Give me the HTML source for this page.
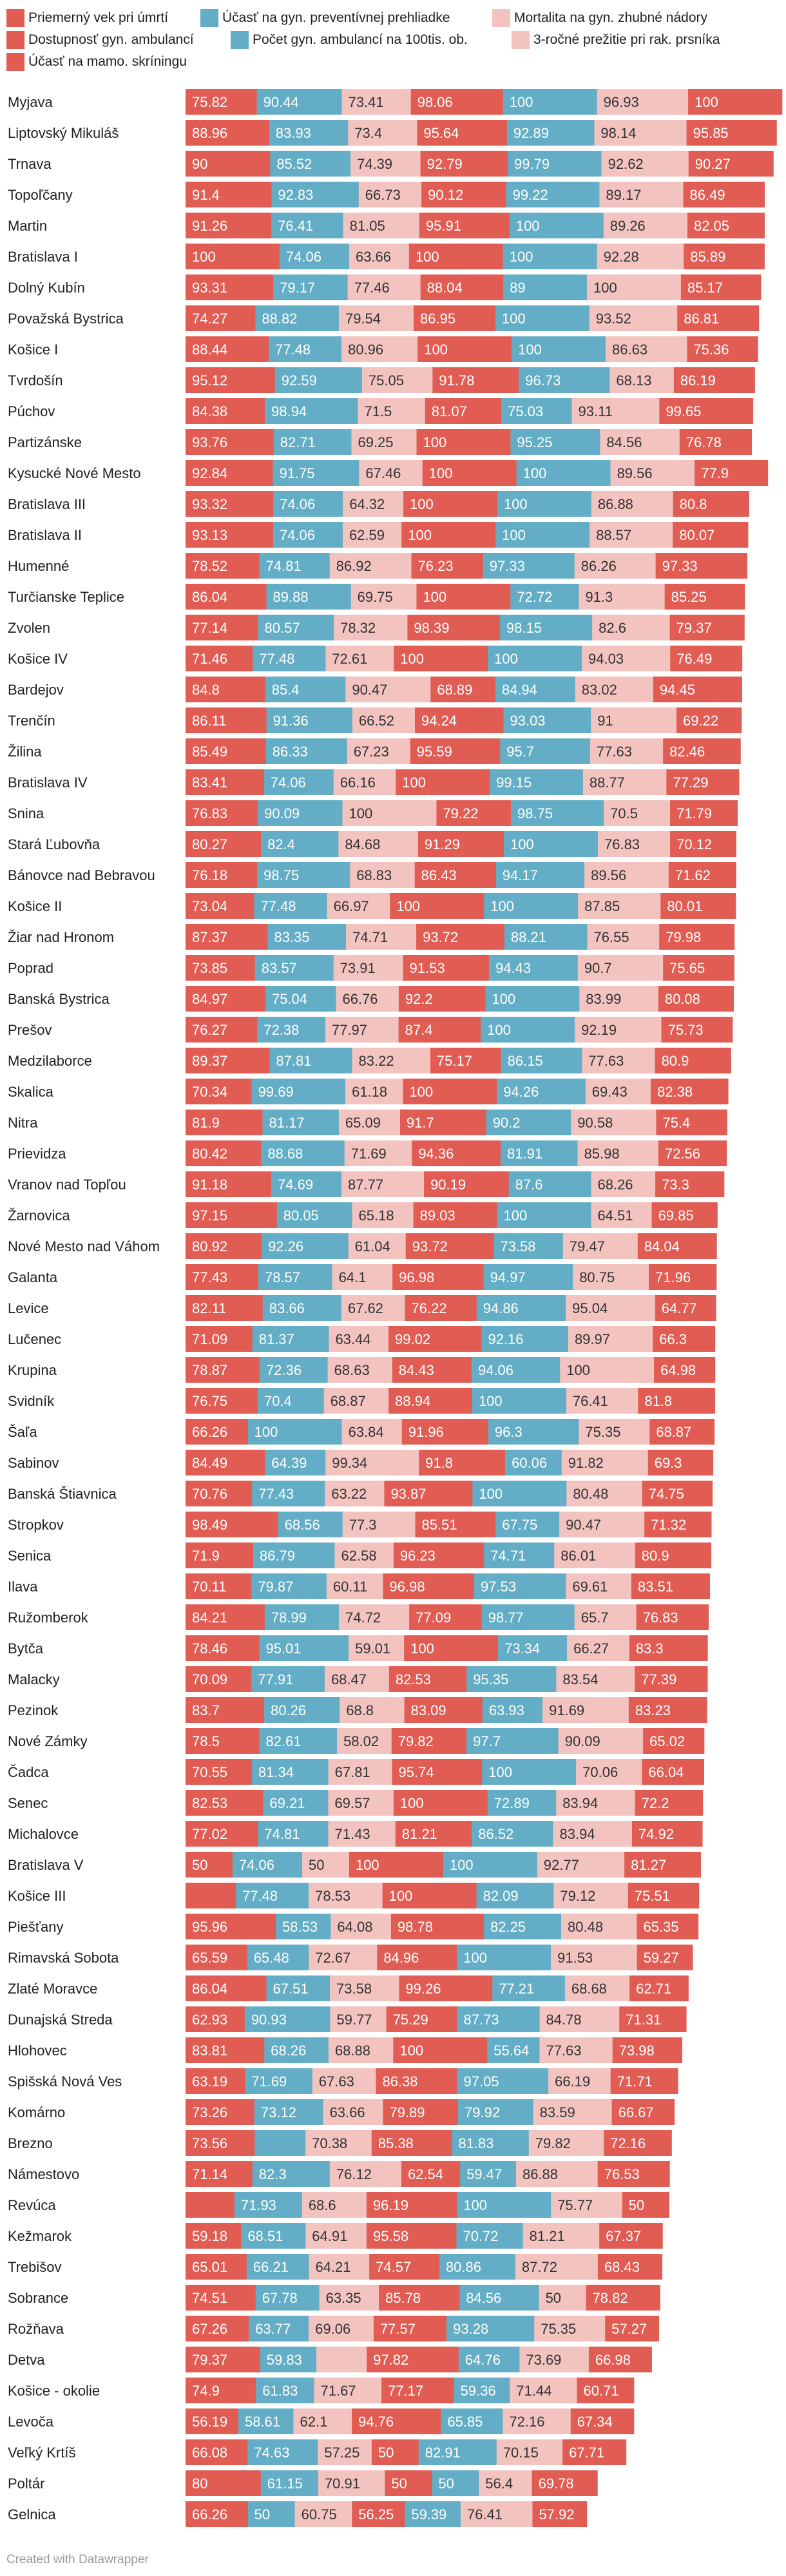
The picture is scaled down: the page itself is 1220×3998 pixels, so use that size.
<!DOCTYPE html>
<html><head><meta charset="utf-8">
<style>
html,body{margin:0;padding:0;background:#fff;}
body{width:1220px;height:3998px;position:relative;overflow:hidden;font-family:"Liberation Sans",sans-serif;}
.lg{position:absolute;height:28px;display:flex;align-items:center;font-size:21px;color:#222;white-space:nowrap;}
.lg i{display:inline-block;width:28px;height:28px;margin-right:6px;}
#foot{position:absolute;left:10px;top:3962px;font-size:19px;color:#999;}
svg{position:absolute;left:0;top:0;}
</style></head>
<body>
<div>
<div class="lg" style="left:10px;top:14px"><i style="background:#e15c53"></i>Priemerný vek pri úmrtí</div>
<div class="lg" style="left:311px;top:14px"><i style="background:#63aec6"></i>Účasť na gyn. preventívnej prehliadke</div>
<div class="lg" style="left:764px;top:14px"><i style="background:#f3c3bf"></i>Mortalita na gyn. zhubné nádory</div>
<div class="lg" style="left:10px;top:48px"><i style="background:#e15c53"></i>Dostupnosť gyn. ambulancí</div>
<div class="lg" style="left:358px;top:48px"><i style="background:#63aec6"></i>Počet gyn. ambulancí na 100tis. ob.</div>
<div class="lg" style="left:794px;top:48px"><i style="background:#f3c3bf"></i>3-ročné prežitie pri rak. prsníka</div>
<div class="lg" style="left:10px;top:82px"><i style="background:#e15c53"></i>Účasť na mamo. skríningu</div>
</div>
<svg id="chart" width="1220" height="3998"></svg>
<div id="foot">Created with Datawrapper</div>
<script>
const categories=["Myjava","Liptovský Mikuláš","Trnava","Topoľčany","Martin","Bratislava I","Dolný Kubín","Považská Bystrica","Košice I","Tvrdošín","Púchov","Partizánske","Kysucké Nové Mesto","Bratislava III","Bratislava II","Humenné","Turčianske Teplice","Zvolen","Košice IV","Bardejov","Trenčín","Žilina","Bratislava IV","Snina","Stará Ľubovňa","Bánovce nad Bebravou","Košice II","Žiar nad Hronom","Poprad","Banská Bystrica","Prešov","Medzilaborce","Skalica","Nitra","Prievidza","Vranov nad Topľou","Žarnovica","Nové Mesto nad Váhom","Galanta","Levice","Lučenec","Krupina","Svidník","Šaľa","Sabinov","Banská Štiavnica","Stropkov","Senica","Ilava","Ružomberok","Bytča","Malacky","Pezinok","Nové Zámky","Čadca","Senec","Michalovce","Bratislava V","Košice III","Piešťany","Rimavská Sobota","Zlaté Moravce","Dunajská Streda","Hlohovec","Spišská Nová Ves","Komárno","Brezno","Námestovo","Revúca","Kežmarok","Trebišov","Sobrance","Rožňava","Detva","Košice - okolie","Levoča","Veľký Krtíš","Poltár","Gelnica"];
const vek=[75.82,88.96,90,91.4,91.26,100,93.31,74.27,88.44,95.12,84.38,93.76,92.84,93.32,93.13,78.52,86.04,77.14,71.46,84.8,86.11,85.49,83.41,76.83,80.27,76.18,73.04,87.37,73.85,84.97,76.27,89.37,70.34,81.9,80.42,91.18,97.15,80.92,77.43,82.11,71.09,78.87,76.75,66.26,84.49,70.76,98.49,71.9,70.11,84.21,78.46,70.09,83.7,78.5,70.55,82.53,77.02,50,53.5,95.96,65.59,86.04,62.93,83.81,63.19,73.26,73.56,71.14,52,59.18,65.01,74.51,67.26,79.37,74.9,56.19,66.08,80,66.26];
const prehliadka=[90.44,83.93,85.52,92.83,76.41,74.06,79.17,88.82,77.48,92.59,98.94,82.71,91.75,74.06,74.06,74.81,89.88,80.57,77.48,85.4,91.36,86.33,74.06,90.09,82.4,98.75,77.48,83.35,83.57,75.04,72.38,87.81,99.69,81.17,88.68,74.69,80.05,92.26,78.57,83.66,81.37,72.36,70.4,100,64.39,77.43,68.56,86.79,79.87,78.99,95.01,77.91,80.26,82.61,81.34,69.21,74.81,74.06,77.48,58.53,65.48,67.51,90.93,68.26,71.69,73.12,54,82.3,71.93,68.51,66.21,67.78,63.77,59.83,61.83,58.61,74.63,61.15,50];
const mortalita=[73.41,73.4,74.39,66.73,81.05,63.66,77.46,79.54,80.96,75.05,71.5,69.25,67.46,64.32,62.59,86.92,69.75,78.32,72.61,90.47,66.52,67.23,66.16,100,84.68,68.83,66.97,74.71,73.91,66.76,77.97,83.22,61.18,65.09,71.69,87.77,65.18,61.04,64.1,67.62,63.44,68.63,68.87,63.84,99.34,63.22,77.3,62.58,60.11,74.72,59.01,68.47,68.8,58.02,67.81,69.57,71.43,50,78.53,64.08,72.67,73.58,59.77,68.88,67.63,63.66,70.38,76.12,68.6,64.91,64.21,63.35,69.06,53.5,71.67,62.1,57.25,70.91,60.75];
const dostupnost=[98.06,95.64,92.79,90.12,95.91,100,88.04,86.95,100,91.78,81.07,100,100,100,100,76.23,100,98.39,100,68.89,94.24,95.59,100,79.22,91.29,86.43,100,93.72,91.53,92.2,87.4,75.17,100,91.7,94.36,90.19,89.03,93.72,96.98,76.22,99.02,84.43,88.94,91.96,91.8,93.87,85.51,96.23,96.98,77.09,100,82.53,83.09,79.82,95.74,100,81.21,100,100,98.78,84.96,99.26,75.29,100,86.38,79.89,85.38,62.54,96.19,95.58,74.57,85.78,77.57,97.82,77.17,94.76,50,50,56.25];
const pocet=[100,92.89,99.79,99.22,100,100,89,100,100,96.73,75.03,95.25,100,100,100,97.33,72.72,98.15,100,84.94,93.03,95.7,99.15,98.75,100,94.17,100,88.21,94.43,100,100,86.15,94.26,90.2,81.91,87.6,100,73.58,94.97,94.86,92.16,94.06,100,96.3,60.06,100,67.75,74.71,97.53,98.77,73.34,95.35,63.93,97.7,100,72.89,86.52,100,82.09,82.25,100,77.21,87.73,55.64,97.05,79.92,81.83,59.47,100,70.72,80.86,84.56,93.28,64.76,59.36,65.85,82.91,50,59.39];
const prezitie=[96.93,98.14,92.62,89.17,89.26,92.28,100,93.52,86.63,68.13,93.11,84.56,89.56,86.88,88.57,86.26,91.3,82.6,94.03,83.02,91,77.63,88.77,70.5,76.83,89.56,87.85,76.55,90.7,83.99,92.19,77.63,69.43,90.58,85.98,68.26,64.51,79.47,80.75,95.04,89.97,100,76.41,75.35,91.82,80.48,90.47,86.01,69.61,65.7,66.27,83.54,91.69,90.09,70.06,83.94,83.94,92.77,79.12,80.48,91.53,68.68,84.78,77.63,66.19,83.59,79.82,86.88,75.77,81.21,87.72,50,75.35,73.69,71.44,72.16,70.15,56.4,76.41];
const mamo=[100,95.85,90.27,86.49,82.05,85.89,85.17,86.81,75.36,86.19,99.65,76.78,77.9,80.8,80.07,97.33,85.25,79.37,76.49,94.45,69.22,82.46,77.29,71.79,70.12,71.62,80.01,79.98,75.65,80.08,75.73,80.9,82.38,75.4,72.56,73.3,69.85,84.04,71.96,64.77,66.3,64.98,81.8,68.87,69.3,74.75,71.32,80.9,83.51,76.83,83.3,77.39,83.23,65.02,66.04,72.2,74.92,81.27,75.51,65.35,59.27,62.71,71.31,73.98,71.71,66.67,72.16,76.53,50,67.37,68.43,78.82,57.27,66.98,60.71,67.34,67.71,69.78,57.92];
const hiddenLabels=["Košice III|0","Brezno|1","Revúca|0","Detva|2"];
const seriesNames=["vek","prehliadka","mortalita","dostupnost","pocet","prezitie","mamo"];

const series=[vek,prehliadka,mortalita,dostupnost,pocet,prezitie,mamo];
const colors=["#e15c53","#63aec6","#f3c3bf","#e15c53","#63aec6","#f3c3bf","#e15c53"];
const textColors=["#fff","#fff","#333","#fff","#fff","#333","#fff"];
const NS="http://www.w3.org/2000/svg";
const svg=document.getElementById('chart');
const X0=288, W=926, Y0=138, PITCH=48, BH=40;
let maxTotal=0;
categories.forEach((c,i)=>{let t=0;series.forEach(s=>t+=s[i]);if(t>maxTotal)maxTotal=t;});
const xScale=v=>v*W/maxTotal;
const yScale=i=>Y0+i*PITCH;
categories.forEach((c,i)=>{
  const y=yScale(i);
  const g=document.createElementNS(NS,'g');
  
  
  const lab=document.createElementNS(NS,'text');
  
  
  lab.setAttribute('x',12);lab.setAttribute('y',y+28);
  lab.setAttribute('font-size','22');lab.setAttribute('fill','#222');
  lab.textContent=c;g.appendChild(lab);
  let acc=0;
  series.forEach((s,k)=>{
    const v=s[i];const x=X0+xScale(acc);const w=xScale(v);
    const r=document.createElementNS(NS,'rect');
    
    
    r.setAttribute('x',x);r.setAttribute('y',y);r.setAttribute('width',w+0.3);r.setAttribute('height',BH);
    r.setAttribute('fill',colors[k]);g.appendChild(r);
    if(hiddenLabels.indexOf(c+'|'+k)<0){
      const t=document.createElementNS(NS,'text');
      
      
      t.setAttribute('x',x+10);t.setAttribute('y',y+28);
      t.setAttribute('font-size','22');t.setAttribute('fill',textColors[k]);
      t.textContent=String(v);g.appendChild(t);
    }
    acc+=v;
  });
  svg.appendChild(g);
});
</script>
</body></html>
